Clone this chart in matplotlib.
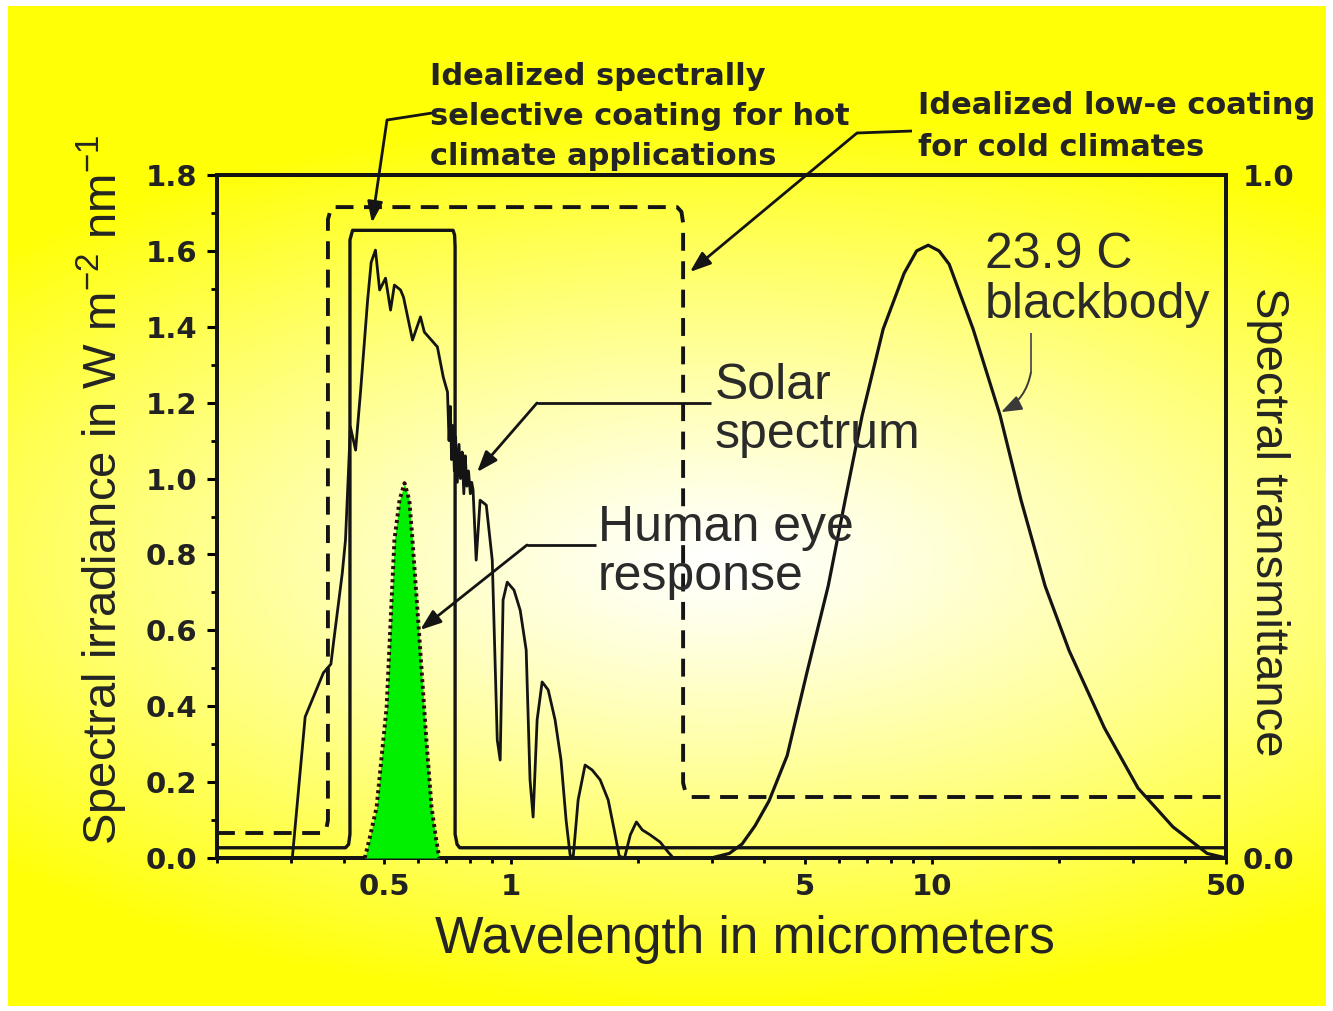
import numpy as np
import matplotlib
matplotlib.use("Agg")
import matplotlib.pyplot as plt
from matplotlib.transforms import Affine2D
from matplotlib.lines import Line2D
from matplotlib.ticker import FixedLocator, NullFormatter

# ---------------- data ----------------
# Solar spectrum (wavelength in micrometers, spectral irradiance W m-2 nm-1)
solar_wl = [0.302, 0.324, 0.358, 0.373, 0.379, 0.397, 0.404, 0.415, 0.427, 0.439,
            0.456, 0.465, 0.476, 0.487, 0.503, 0.517, 0.528, 0.546, 0.555, 0.583,
            0.609, 0.622, 0.668, 0.690, 0.706, 0.712, 0.717, 0.722, 0.727, 0.733,
            0.738, 0.745, 0.752, 0.758, 0.765, 0.772, 0.778, 0.785, 0.792, 0.800,
            0.806, 0.812, 0.826, 0.844, 0.873, 0.902, 0.927, 0.942, 0.957, 0.979,
            1.016, 1.051, 1.086, 1.109, 1.128, 1.153, 1.185, 1.225, 1.272, 1.314,
            1.351, 1.381, 1.404, 1.443, 1.499, 1.558, 1.628, 1.701, 1.758, 1.807,
            1.860, 1.920, 1.985, 2.050, 2.140, 2.260, 2.360, 2.430]
solar_irr = [0.000, 0.372, 0.488, 0.511, 0.574, 0.751, 0.838, 1.136, 1.075, 1.233,
             1.470, 1.570, 1.602, 1.497, 1.528, 1.444, 1.510, 1.497, 1.478, 1.365,
             1.426, 1.386, 1.347, 1.267, 1.228, 1.100, 1.190, 1.050, 1.140, 1.020,
             1.110, 0.990, 1.090, 1.000, 1.070, 0.960, 1.060, 0.980, 1.020, 0.960,
             0.990, 0.970, 0.785, 0.943, 0.930, 0.785, 0.311, 0.258, 0.680, 0.727,
             0.706, 0.653, 0.548, 0.206, 0.108, 0.364, 0.464, 0.443, 0.364, 0.258,
             0.100, 0.008, 0.000, 0.153, 0.245, 0.232, 0.206, 0.153, 0.074, 0.005,
             0.000, 0.061, 0.095, 0.074, 0.061, 0.042, 0.016, 0.000]

# Human eye (photopic) response, relative
eye_wl = [0.449, 0.460, 0.479, 0.506, 0.528, 0.543, 0.558, 0.573, 0.583, 0.606,
          0.629, 0.647, 0.664, 0.675]
eye_resp = [0.000, 0.047, 0.134, 0.398, 0.838, 0.943, 0.988, 0.943, 0.838, 0.574,
            0.311, 0.134, 0.047, 0.000]

# 23.9 C blackbody emission
bb_wl = [2.99, 3.30, 3.54, 3.80, 4.10, 4.53, 5.05, 5.67, 6.22, 6.83, 7.66, 8.59,
         9.20, 9.80, 10.40, 10.99, 12.53, 14.52, 16.29, 18.58, 21.2, 25.7, 30.9,
         37.4, 45.1, 50.0]
bb_irr = [0.000, 0.012, 0.037, 0.085, 0.150, 0.270, 0.490, 0.717, 0.943, 1.167,
          1.394, 1.541, 1.600, 1.615, 1.600, 1.565, 1.394, 1.167, 0.943, 0.717,
          0.546, 0.343, 0.184, 0.082, 0.012, 0.000]

# Idealized spectrally selective coating (transmittance)
hot_wl = [0.2, 0.404, 0.411, 0.414, 0.414, 0.420, 0.728, 0.734, 0.736, 0.736,
          0.744, 0.755, 50.0]
hot_T = [0.015, 0.015, 0.020, 0.035, 0.905, 0.919, 0.919, 0.912, 0.895, 0.035,
         0.020, 0.015, 0.015]

# Idealized low-e coating (transmittance)
lowe_wl = [0.2, 0.356, 0.363, 0.367, 0.367, 0.374, 2.48, 2.54, 2.563, 2.563,
           2.60, 2.68, 50.0]
lowe_T = [0.0366, 0.0366, 0.040, 0.055, 0.935, 0.953, 0.953, 0.946, 0.930, 0.110,
          0.095, 0.0893, 0.0893]

x_major = [0.5, 1, 5, 10, 50]
x_major_labels = ["0.5", "1", "5", "10", "50"]
x_minor = [0.2, 0.3, 0.4, 0.6, 0.7, 0.8, 0.9, 2, 3, 4, 6, 7, 8, 9, 20, 30, 40]
y_major = [0.0, 0.2, 0.4, 0.6, 0.8, 1.0, 1.2, 1.4, 1.6, 1.8]
y_minor = [0.1, 0.3, 0.5, 0.7, 0.9, 1.1, 1.3, 1.5, 1.7]
t_ticks = [0.0, 1.0]

# ---------------- figure ----------------
W, H = 1333, 1011
plt.rcParams["mathtext.fontset"] = "custom"
plt.rcParams["mathtext.rm"] = "Liberation Sans"
plt.rcParams["mathtext.it"] = "Liberation Sans:italic"

fig = plt.figure(figsize=(W / 100, H / 100), dpi=100, facecolor="white")
top_px = Affine2D().scale(1, -1).translate(0, H)   # pixel coords from top-left

# yellow-to-white background panel
bx0, by0, bx1, by1 = 8, 6, 1326, 1006
bg = fig.add_axes([bx0 / W, 1 - by1 / H, (bx1 - bx0) / W, (by1 - by0) / H], zorder=-10)
yy, xx = np.mgrid[by0:by1, bx0:bx1].astype(float)
r = np.sqrt(((xx - 720) / 1000.0) ** 2 + ((yy - 560) / 450.0) ** 2)
wgt = np.clip(r, 0, 1) ** 1.2
img = np.dstack([np.ones_like(wgt), np.ones_like(wgt), 1 - 0.98 * wgt])
bg.imshow(img, aspect="auto", interpolation="bilinear")
bg.axis("off")

L, R, T, B = 217, 1226, 175, 858
ax = fig.add_axes([L / W, 1 - B / H, (R - L) / W, (B - T) / H])
ax2 = ax.twinx()
ax.set_zorder(ax2.get_zorder() + 1)
ax.patch.set_visible(False)
ax2.patch.set_visible(False)

ax.set_xscale("log")
ax.set_xlim(0.2, 50)
ax.set_ylim(0, 1.8)
ax2.set_ylim(0, 1.0)

ink = "#141414"
# coatings on the transmittance axis
ax2.plot(hot_wl, hot_T, color=ink, lw=2.4, solid_joinstyle="round")
ax2.plot(lowe_wl, lowe_T, color=ink, lw=2.8, ls=(0, (4.6, 2.7)))

# eye response, solar spectrum, blackbody on the irradiance axis
ax.fill_between(eye_wl, eye_resp, color="#00f000", lw=0, zorder=3)
ax.plot(eye_wl, eye_resp, color="#2a0c0c", lw=2.8, ls=(0, (0.8, 0.9)), zorder=4)
ax.plot(solar_wl, solar_irr, color=ink, lw=2.0, zorder=5, solid_joinstyle="round")
ax.plot(bb_wl, bb_irr, color=ink, lw=2.3, zorder=5, solid_joinstyle="round")

# ticks
tick_font = dict(family="DejaVu Sans", weight="bold", size=21)
ax.xaxis.set_major_locator(FixedLocator(x_major))
ax.xaxis.set_minor_locator(FixedLocator(x_minor))
ax.xaxis.set_minor_formatter(NullFormatter())
ax.set_xticklabels(x_major_labels, fontdict=tick_font, color="#222222")
ax.set_yticks(y_major)
ax.set_yticks(y_minor, minor=True)
ax.set_yticklabels([f"{v:.1f}" for v in y_major], fontdict=tick_font, color="#222222")
ax.tick_params(axis="y", which="major", direction="out", length=7, width=2.2, pad=7)
ax.tick_params(axis="y", which="minor", direction="out", length=4, width=2.0)
ax.tick_params(axis="x", which="major", direction="out", length=4.5, width=2.0, pad=6)
ax.tick_params(axis="x", which="minor", direction="out", length=3.5, width=2.0)
ax2.set_yticks(t_ticks)
ax2.set_yticklabels([f"{v:.1f}" for v in t_ticks], fontdict=tick_font, color="#222222")
ax2.tick_params(axis="y", direction="out", length=0, pad=12)

for a in (ax, ax2):
    for s in a.spines.values():
        s.set_linewidth(2.8)
        s.set_color(ink)

# axis titles
lab = dict(family="Liberation Sans", color="#242424", transform=top_px)
fig.text(102, 490, r"Spectral irradiance in W m$^{-2}$ nm$^{-1}$", rotation=90,
         ha="center", va="center", fontsize=34, **lab)
fig.text(1268, 522, "Spectral transmittance", rotation=-90,
         ha="center", va="center", fontsize=34, **lab)
fig.text(745, 940, "Wavelength in micrometers", ha="center", va="center",
         fontsize=37, **lab)

# callout texts
bold = dict(family="DejaVu Sans", weight="bold", fontsize=22, color="#242424",
            transform=top_px, va="baseline", ha="left")
fig.text(430, 85, "Idealized spectrally", **bold)
fig.text(430, 125, "selective coating for hot", **bold)
fig.text(430, 165, "climate applications", **bold)
fig.text(918, 114, "Idealized low-e coating", **bold)
fig.text(918, 156, "for cold climates", **bold)

reg = dict(family="Liberation Sans", fontsize=36, color="#2a2a2a",
           transform=top_px, va="baseline", ha="left")
fig.text(715, 399, "Solar", **reg)
fig.text(715, 448, "spectrum", **reg)
fig.text(598, 541, "Human eye", **reg)
fig.text(598, 590, "response", **reg)
fig.text(985, 268, "23.9 C", **reg)
fig.text(985, 318, "blackbody", **reg)

# leader lines and arrows
def leader(xs, ys, color=ink, lw=2.0):
    fig.add_artist(Line2D(xs, ys, transform=top_px, color=color, lw=lw,
                          solid_capstyle="butt"))

head = "-|>,head_length=0.9,head_width=0.33"

def arrow(axis, tip, start, color=ink, lw=2.0, conn="arc3"):
    axis.annotate("", xy=tip, xycoords="data", xytext=start, textcoords=top_px,
                  annotation_clip=False,
                  arrowprops=dict(arrowstyle=head, color=color, lw=lw,
                                  shrinkA=0, shrinkB=0, mutation_scale=14,
                                  connectionstyle=conn))

leader([432, 387], [113, 120])
arrow(ax2, (0.467, 0.93), (387, 120))

leader([912, 857], [131, 133])
arrow(ax2, (2.66, 0.858), (857, 133))

leader([711, 537], [403, 403])
arrow(ax, (0.830, 1.017), (537, 403))

leader([596, 527], [545, 545])
arrow(ax, (0.608, 0.601), (527, 545))

leader([1031, 1031], [333, 372], color="#5a5a5a", lw=1.4)
arrow(ax, (14.6, 1.175), (1031, 372), color="#3a3a3a", lw=1.4, conn="arc3,rad=-0.25")

fig.savefig("out.png", dpi=100, facecolor="white")
